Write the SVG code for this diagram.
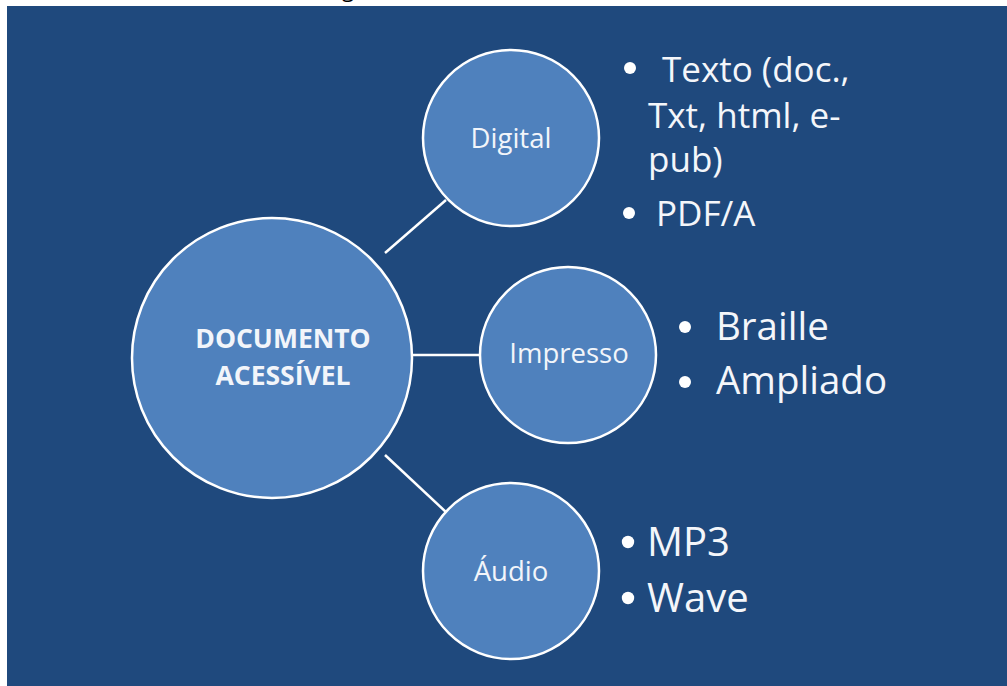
<svg xmlns="http://www.w3.org/2000/svg" width="1007" height="686" viewBox="0 0 1007 686">
<style>
.node{fill:#4F81BD;stroke:#FFFFFF;stroke-width:2.5}
.lbl{font-family:"Open Sans","Liberation Sans",sans-serif;fill:#F2F5FA;text-anchor:middle}
.item{font-family:"Open Sans","Liberation Sans",sans-serif;fill:#F4F6FA}
.bul{fill:#FFFFFF}
.conn{stroke:#FFFFFF;stroke-width:2.5;fill:none}
</style>
<rect x="0" y="0" width="1007" height="686" fill="#FFFFFF"/>
<text x="342" y="-3" font-family="'Open Sans','Liberation Sans',sans-serif" font-size="22" fill="#000000">g</text>
<rect x="7" y="6" width="1000" height="680" fill="#1F497D"/>
<g id="connectors">
<line class="conn" x1="385" y1="253" x2="446" y2="200"/>
<line class="conn" x1="412" y1="355" x2="481" y2="355"/>
<line class="conn" x1="385" y1="455" x2="447" y2="513"/>
</g>
<g id="node-documento">
<circle class="node" cx="272" cy="358" r="140"/>
<text class="lbl" x="283" y="348" font-size="26.5" font-weight="bold">DOCUMENTO</text>
<text class="lbl" x="283" y="385" font-size="26.5" font-weight="bold">ACESSÍVEL</text>
</g>
<g id="node-digital">
<circle class="node" cx="511" cy="138" r="88"/>
<text class="lbl" x="511" y="148" font-size="27.5">Digital</text>
</g>
<g id="node-impresso">
<circle class="node" cx="568" cy="355" r="88"/>
<text class="lbl" x="569" y="363" font-size="27.5">Impresso</text>
</g>
<g id="node-audio">
<circle class="node" cx="511" cy="571" r="88"/>
<text class="lbl" x="511" y="581" font-size="27.5">Áudio</text>
</g>
<g id="list-digital">
<circle class="bul" cx="630" cy="68" r="6"/>
<text class="item" x="662" y="82" font-size="35">Texto (doc.,</text>
<text class="item" x="648" y="128" font-size="35">Txt, html, e-</text>
<text class="item" x="648" y="172" font-size="35">pub)</text>
<circle class="bul" cx="629" cy="213" r="6"/>
<text class="item" x="656" y="226" font-size="35">PDF/A</text>
</g>
<g id="list-impresso">
<circle class="bul" cx="685" cy="327" r="6"/>
<text class="item" x="716" y="340" font-size="38.5">Braille</text>
<circle class="bul" cx="685" cy="382" r="6"/>
<text class="item" x="716" y="394" font-size="38.5">Ampliado</text>
</g>
<g id="list-audio">
<circle class="bul" cx="628" cy="542" r="6.2"/>
<text class="item" x="647" y="556" font-size="40">MP3</text>
<circle class="bul" cx="628" cy="598" r="6.2"/>
<text class="item" x="647" y="612" font-size="40">Wave</text>
</g>
</svg>
